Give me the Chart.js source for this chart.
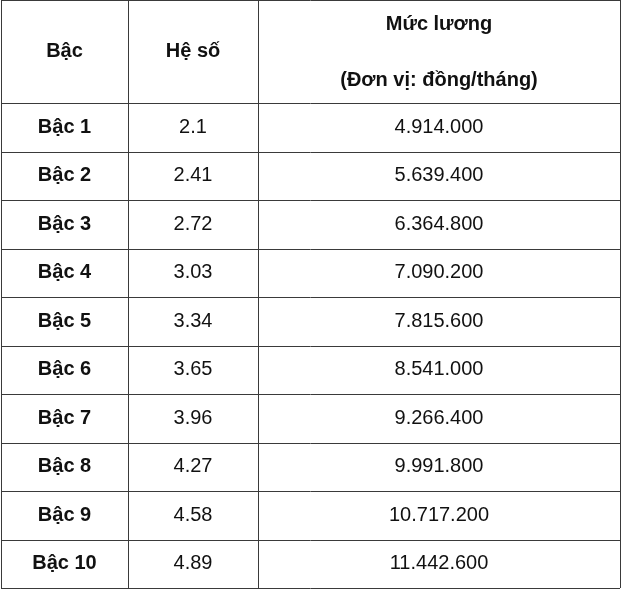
<!DOCTYPE html>
<html>
<head>
<meta charset="utf-8">
<script src="https://cdn.jsdelivr.net/npm/chart.js@4/dist/chart.umd.min.js"></script>
<style>
  html, body { margin: 0; padding: 0; background: #fff; }
  #wrap { width: 622px; height: 590px; }
</style>
</head>
<body>
<div id="wrap"><canvas id="tableChart"></canvas></div>
<script>
const levels = ["Bậc 1", "Bậc 2", "Bậc 3", "Bậc 4", "Bậc 5", "Bậc 6", "Bậc 7", "Bậc 8", "Bậc 9", "Bậc 10"];
const coefficients = ["2.1", "2.41", "2.72", "3.03", "3.34", "3.65", "3.96", "4.27", "4.58", "4.89"];
const salaries = ["4.914.000", "5.639.400", "6.364.800", "7.090.200", "7.815.600", "8.541.000", "9.266.400", "9.991.800", "10.717.200", "11.442.600"];
const headers = ["Bậc", "Hệ số", ["Mức lương", "(Đơn vị: đồng/tháng)"]];

// layout in scale units
const colEdges = [1, 128, 258, 620];
const headerRows = 2.124;
const font = '"Liberation Sans", Arial, sans-serif';

const tablePlugin = {
    id: "tablePlugin",
    afterDraw(chart) {
        const { ctx, scales: { x, y } } = chart;
        const px = (v) => x.getPixelForValue(v);
        const py = (v) => y.getPixelForValue(v);
        const top = py(0);
        const bottom = py(headerRows + levels.length);

        ctx.save();
        ctx.strokeStyle = "#3a3a3a";
        ctx.lineWidth = 1;
        // horizontal lines
        const hLines = [0, headerRows];
        levels.forEach((_, i) => hLines.push(headerRows + i + 1));
        hLines.forEach((v) => {
            const yy = Math.round(py(v)) + 0.5;
            ctx.beginPath();
            ctx.moveTo(px(colEdges[0]), yy);
            ctx.lineTo(px(colEdges[3]), yy);
            ctx.stroke();
        });
        colEdges.forEach((c) => {
            const xx = Math.round(px(c)) + 0.5;
            ctx.beginPath();
            ctx.moveTo(xx, top);
            ctx.lineTo(xx, bottom);
            ctx.stroke();
        });

        ctx.fillStyle = "#111";
        ctx.textAlign = "center";
        ctx.textBaseline = "middle";
        const cx = (i) => (px(colEdges[i]) + px(colEdges[i + 1])) / 2;

        // header
        ctx.font = "bold 20px " + font;
        headers.forEach((h, i) => {
            if (Array.isArray(h)) {
                ctx.fillText(h[0], cx(i), py(0.5));
                ctx.fillText(h[1], cx(i), py(1.65));
            } else {
                ctx.fillText(h, cx(i), py(headerRows / 2));
            }
        });

        levels.forEach((lv, i) => {
            const yc = py(headerRows + i + 0.5);
            ctx.font = "bold 20px " + font;
            ctx.fillText(lv, cx(0), yc);
            ctx.font = "20px " + font;
            ctx.fillText(coefficients[i], cx(1), yc);
            ctx.fillText(salaries[i], cx(2), yc);
        });
        ctx.restore();
    },
};

new Chart(document.getElementById("tableChart"), {
    type: "bar",
    data: { labels: levels, datasets: [] },
    options: {
        responsive: true,
        maintainAspectRatio: false,
        animation: false,
        layout: { padding: 0 },
        plugins: { legend: { display: false }, tooltip: { enabled: false } },
        scales: {
            x: { type: "linear", min: 0, max: 622, offset: false, display: false },
            y: { type: "linear", min: 0, max: 590 / 48.5, reverse: true, offset: false, display: false },
        },
    },
    plugins: [tablePlugin],
});
</script>
</body>
</html>
